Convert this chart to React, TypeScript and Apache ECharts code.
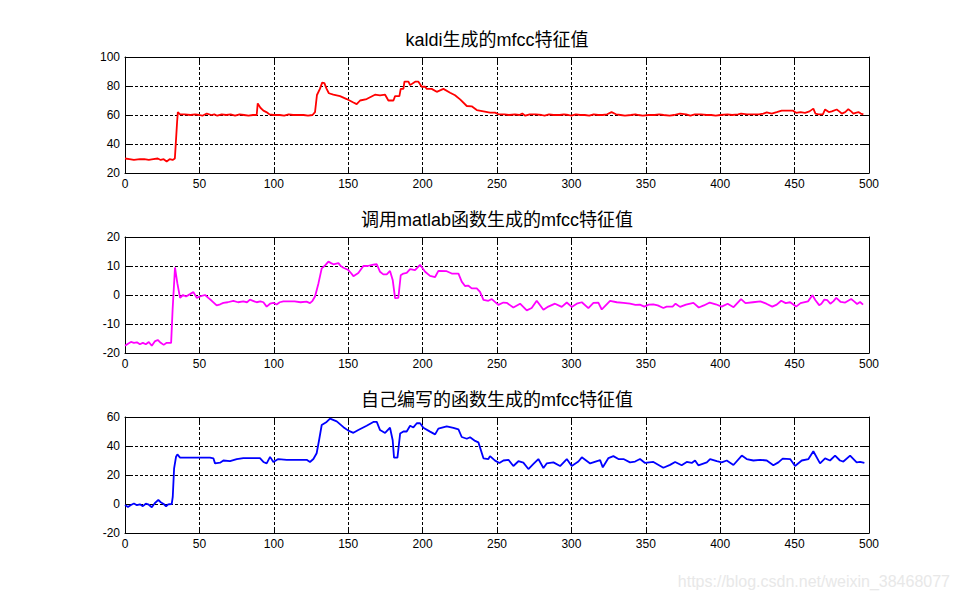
import React, { useEffect, useRef } from "react";
import * as echarts from "echarts";

// ---------- data ----------
const titles = [
  "kaldi生成的mfcc特征值",
  "调用matlab函数生成的mfcc特征值",
  "自己编写的函数生成的mfcc特征值",
];
const watermark = "https://blog.csdn.net/weixin_38468077";

const xTicks = { min: 0, max: 500, interval: 50 };
const yRanges = [
  { min: 20, max: 100, interval: 20 },
  { min: -20, max: 20, interval: 10 },
  { min: -20, max: 60, interval: 20 },
];
const colors = ["#ff0000", "#ff00ff", "#0000ff"];

const kaldiX = [0, 3, 6, 10, 13, 16, 19, 22, 24, 26, 28, 30, 32, 33.5, 34, 35, 35.5, 37, 40, 44, 47, 50, 52, 55, 58, 60, 62, 65, 68, 71, 74, 77, 80, 83, 86, 88.5, 89.2, 91, 93, 95, 97, 100, 104, 107, 110, 113, 117, 120, 123, 126, 127.7, 129, 131, 132.5, 134, 135.5, 137, 140, 144.5, 149, 153.5, 155.7, 158, 162.4, 168, 171.4, 174.8, 177, 180.4, 181.5, 184.4, 185.3, 187.1, 187.8, 190.5, 191.6, 195, 197.2, 199.4, 201.7, 202.8, 206.1, 209.5, 214, 218.5, 221.8, 225.2, 229.7, 233, 236.4, 240.9, 245.3, 248.7, 251, 255, 258, 262, 265, 267, 269, 272, 276, 280, 282, 285, 288, 292, 295, 298, 300, 303, 306, 309, 312, 315, 318, 321, 324, 327, 330, 333, 336, 340, 343, 345, 348, 352, 356, 359, 362, 366, 369, 373, 377, 380, 383, 387, 391, 394, 397, 400, 405, 408, 412, 414, 418, 422, 426, 429, 431.3, 434.6, 438, 441.3, 445, 449, 451, 454, 457, 460, 462.6, 464, 466, 469, 470.5, 473, 475, 478.3, 480, 481.7, 484, 486.1, 488, 489.5, 491, 492.9, 494.5, 496.2];
const kaldiY = [30, 29.5, 29, 29.5, 29.5, 29, 29.5, 30, 29, 29.5, 28, 29.5, 29, 30, 38, 55, 62, 60.5, 60.5, 60, 60.5, 60, 59.5, 61, 60, 60.5, 59.5, 60.5, 60, 60.5, 59.5, 60.5, 60, 59.5, 60, 60, 68, 65, 63, 62, 60.5, 60, 60, 59.5, 60.5, 60, 60, 60, 59.5, 60, 62, 73.8, 78, 82.3, 82, 78, 75, 74, 73, 71, 68.6, 67.5, 70, 71, 74, 73.6, 74, 70, 70, 73, 73, 78, 78, 83, 83, 80.6, 83, 83, 79.5, 79.5, 78, 78, 76, 78, 75.4, 73.6, 70.8, 66.2, 66, 63.4, 62.5, 61.6, 61.6, 60.5, 60.5, 60, 60.5, 60, 61, 59.5, 60.5, 60.5, 60, 59.5, 60.5, 60, 60, 60.5, 60, 59.5, 60.5, 60, 60, 59.5, 60.5, 60, 60, 60.5, 62, 60.5, 60, 59.5, 60, 60.5, 60, 59.5, 60, 60, 60.5, 60, 59.5, 60, 61, 60.5, 59.5, 60.5, 60.5, 60, 60, 59.5, 60, 60.5, 60, 60.5, 61, 60.5, 60.5, 60.5, 61, 61.8, 61, 62, 63, 63, 63, 61.5, 62, 61.5, 62.5, 64.4, 61, 60.5, 60.5, 63.8, 62, 62.5, 63.8, 62.5, 61, 62, 64, 62.5, 61, 61.5, 62, 61, 60.5];

const matlabX = [0, 2, 4, 6, 8, 10, 12, 14, 16, 18, 20, 22, 24, 26, 28, 31, 32, 33.6, 34.3, 35.2, 37, 39, 41, 43.7, 46, 48.2, 50.4, 53.8, 56, 58.3, 61.6, 64, 66.1, 69, 72.8, 76, 79.5, 82, 84, 86, 88.5, 91, 93, 95.2, 97.5, 99.7, 101.9, 104, 106.4, 110, 114, 118, 122, 124.3, 126, 127.7, 130, 132.2, 134.5, 136.7, 138.5, 140, 143.4, 145, 146.8, 150.1, 152, 153.5, 155, 156.8, 160.2, 163, 166.9, 169.2, 171.4, 173.6, 175.9, 178.1, 179.9, 181.5, 183.7, 185.3, 187.1, 189.3, 191.6, 194.9, 198.3, 201.7, 205, 208.4, 210.6, 216.2, 219.6, 224.1, 226.3, 228.5, 230.8, 233, 236.4, 238.6, 240.9, 244.2, 246.5, 250.9, 254.3, 256.5, 261, 265.5, 270, 273.3, 276.7, 281.2, 284.5, 289, 293.5, 296.9, 300.2, 303.6, 307, 311.4, 314.8, 318.1, 320.4, 323.7, 326, 330.5, 335, 339.4, 343, 346, 349, 352, 355, 358, 361.8, 364, 368, 370, 373, 377, 382, 385.6, 389, 393, 397, 401, 405, 409, 414, 417, 422, 427, 431, 435, 438, 441, 444, 447, 451, 454, 459, 462, 464, 466.5, 468, 470, 472, 474, 476, 478, 481, 484, 488, 490, 492, 494, 496];
const matlabY = [-17.5, -16.8, -16.2, -16.5, -16.3, -17, -16.5, -17, -16.2, -17.5, -16, -15.5, -16.5, -17.2, -16.5, -16.5, -5, 9.5, 7, 4, -1, 0, -0.5, 0.3, 1, -1, -0.5, 0, -1, -2, -3.6, -3.2, -2.7, -2.5, -2, -2.5, -2.2, -2.5, -1.6, -2, -2.5, -2.2, -2.5, -4, -3, -2.7, -3.3, -2.5, -2.2, -2.2, -2.2, -2.5, -2.3, -2.8, -2, -0.5, 4, 9.2, 10.2, 11.5, 11, 10.6, 11, 10, 9.4, 8.6, 7.5, 6.5, 7, 7.6, 10, 10, 10.5, 10.6, 8, 7.1, 7.1, 8.3, 5.2, -1.1, -1, 6.8, 7.4, 7.6, 8.9, 8.6, 10.4, 8, 6.6, 6.2, 8.3, 8.2, 7.4, 7.4, 4.6, 3.1, 3.2, 2.3, 2.3, 1.1, -1.7, -2, -1.4, -3.4, -2.6, -2.7, -4.3, -3, -5.3, -4.5, -2, -5.1, -4, -3, -4.1, -2.6, -4.1, -3, -2.5, -4.5, -2.7, -2.6, -5, -3.2, -2, -2.5, -2.7, -3, -3.4, -3.3, -4, -3.3, -3.2, -3.6, -4.5, -4, -4, -3, -4.1, -3.3, -2.7, -4.3, -3.6, -2.6, -3.2, -4, -3, -4.2, -1.4, -2.8, -2.5, -2.2, -3, -4, -3.3, -2, -2.8, -2.5, -4, -2.8, -2.2, -0.1, -1.8, -3.5, -3, -1.6, -1.8, -3, -2.2, -1, -2.4, -2.6, -1.4, -2.2, -3.1, -2.4, -3.3];

const ownX = [0, 2, 4, 6, 8, 10, 12, 14, 16, 18, 20, 22.4, 24, 26, 27.6, 29, 31.4, 32.1, 33, 34.3, 35.2, 37, 42, 47, 52, 57.1, 59.4, 60.5, 63.9, 66.1, 70.6, 75.1, 79.5, 85, 90.7, 93, 95.2, 97.5, 99.7, 103, 108.7, 115, 122.1, 124.3, 126.6, 128.8, 130.6, 132.2, 135.5, 137.8, 142.3, 146.8, 150.1, 153.5, 156.8, 162.4, 166.9, 169.2, 171.4, 174.8, 178.1, 179.9, 180.8, 183.1, 184.9, 187.1, 189.3, 191.6, 193.8, 196.1, 198.3, 200.5, 205, 208.4, 210.6, 216.2, 220.7, 224.1, 226.3, 229.7, 231.9, 235.3, 237.5, 240.9, 244.2, 245.3, 248.7, 251.6, 254.3, 257.7, 261, 264.4, 267.7, 271.1, 274.5, 277.8, 281.2, 283.4, 287.9, 292.4, 296.9, 300.2, 304.7, 307, 312.6, 319.3, 321.1, 324.9, 328.2, 331.6, 335, 339.4, 342.8, 346.1, 349.5, 355.1, 361.8, 366.3, 369.7, 374.1, 377.5, 380.9, 383.1, 385.3, 391, 393.2, 397.7, 401, 404.4, 408.9, 414.5, 417.8, 422.3, 426.8, 431.3, 435.7, 439.1, 442, 447, 450.3, 454.8, 459.3, 462.6, 467.1, 470.5, 473.8, 477.2, 480.5, 482.8, 487.3, 491.7, 494, 496.9];
const ownY = [-0.7, -2, -0.7, 0.4, -0.8, -0.2, -1.5, 0.2, -0.5, -2.2, 0.5, 2.8, 1.2, 0, -1.6, -0.2, 0, 5, 24.6, 32.6, 34.2, 32, 32, 32, 32, 32, 31.5, 28, 28.5, 30, 29.5, 31, 31.7, 31.7, 31.7, 29, 28, 32.5, 29, 31, 30.5, 30.5, 30.5, 29, 31, 35, 45, 54.5, 56.6, 58.9, 57, 53, 50.6, 49.1, 51, 54, 56.6, 56.6, 51, 49, 52.6, 44, 32, 32, 48.6, 50, 50, 54, 52.8, 55.7, 55.7, 52.6, 49.9, 48, 52, 53.5, 52.5, 51.5, 46.2, 45, 46, 43.5, 42.5, 31.5, 31, 33, 29.9, 28.3, 30, 30.5, 26.2, 29.5, 28.5, 24.1, 27.6, 31, 24.8, 28, 28.7, 26.2, 31, 26.2, 29.3, 32.2, 28, 30.3, 25.3, 31.7, 33, 31, 31, 28.7, 29.3, 31, 28.3, 29, 25, 27, 29, 26.7, 29, 28.3, 30, 26.7, 28.7, 31, 29.5, 28.7, 30, 26.9, 33.4, 31, 30, 30.5, 30, 26.7, 28.7, 31.3, 31, 26.2, 30, 31, 36.4, 28, 31.5, 30, 33.4, 30, 29.3, 33.4, 28.7, 29, 28.3];

const seriesX = [kaldiX, matlabX, ownX];
const seriesY = [kaldiY, matlabY, ownY];

// ---------- layout ----------
const gridTops = [57, 237, 417];
const gridH = 116;
const gridLeft = 125;
const gridRight = 91;
const titleCenters = [40, 220, 400];
const FONT = "'Liberation Sans', Arial, 'Noto Sans CJK SC', sans-serif";

function buildOption() {
  const grid = gridTops.map((t) => ({
    left: gridLeft,
    right: gridRight,
    top: t,
    height: gridH,
    show: false,
  }));
  const xAxis: any[] = [];
  const yAxis: any[] = [];
  const series: any[] = [];
  const dash = { color: "#000", width: 1, type: [3, 2] };
  gridTops.forEach((_, i) => {
    xAxis.push({
      type: "value",
      gridIndex: i,
      position: "bottom",
      min: xTicks.min,
      max: xTicks.max,
      interval: xTicks.interval,
      axisLine: { show: true, onZero: false, lineStyle: { color: "#000", width: 1 } },
      axisTick: { show: true, inside: true, length: 6, lineStyle: { color: "#000" } },
      axisLabel: { show: true, color: "#000", fontSize: 12, fontFamily: FONT, margin: 5 },
      splitLine: { show: true, lineStyle: dash },
    });
    xAxis.push({
      type: "value",
      gridIndex: i,
      position: "top",
      min: xTicks.min,
      max: xTicks.max,
      interval: xTicks.interval,
      axisLine: { show: true, onZero: false, lineStyle: { color: "#000", width: 1 } },
      axisTick: { show: true, inside: true, length: 6, lineStyle: { color: "#000" } },
      axisLabel: { show: false },
      splitLine: { show: false },
    });
    const yr = yRanges[i];
    yAxis.push({
      type: "value",
      gridIndex: i,
      position: "left",
      min: yr.min,
      max: yr.max,
      interval: yr.interval,
      axisLine: { show: true, onZero: false, lineStyle: { color: "#000", width: 1 } },
      axisTick: { show: true, inside: true, length: 6, lineStyle: { color: "#000" } },
      axisLabel: { show: true, color: "#000", fontSize: 12, fontFamily: FONT, margin: 5 },
      splitLine: { show: true, lineStyle: dash },
    });
    yAxis.push({
      type: "value",
      gridIndex: i,
      position: "right",
      min: yr.min,
      max: yr.max,
      interval: yr.interval,
      axisLine: { show: true, onZero: false, lineStyle: { color: "#000", width: 1 } },
      axisTick: { show: true, inside: true, length: 6, lineStyle: { color: "#000" } },
      axisLabel: { show: false },
      splitLine: { show: false },
    });
    const xs = seriesX[i];
    const ys = seriesY[i];
    series.push({
      type: "line",
      name: titles[i],
      xAxisIndex: i * 2,
      yAxisIndex: i * 2,
      data: xs.map((x, k) => [x, ys[k]]),
      showSymbol: false,
      symbol: "none",
      lineStyle: { color: colors[i], width: 1.8 },
      itemStyle: { color: colors[i] },
      z: 5,
    });
  });

  const graphic: any[] = titles.map((t, i) => ({
    type: "text",
    x: gridLeft + (960 - gridLeft - gridRight) / 2,
    y: titleCenters[i],
    style: {
      text: t,
      fill: "#000",
      fontSize: 18,
      fontFamily: FONT,
      align: "center",
      verticalAlign: "middle",
    },
  }));
  graphic.push({
    type: "text",
    x: 950,
    y: 581,
    style: {
      text: watermark,
      fill: "#e8e8e8",
      fontSize: 16,
      fontFamily: FONT,
      align: "right",
      verticalAlign: "middle",
    },
  });

  return {
    animation: false,
    backgroundColor: "#ffffff",
    grid,
    xAxis,
    yAxis,
    series,
    graphic,
  };
}

export default function App() {
  const ref = useRef<HTMLDivElement>(null);
  useEffect(() => {
    if (!ref.current) return;
    const chart = echarts.init(ref.current, undefined, { renderer: "svg" });
    chart.setOption(buildOption() as any);
    return () => chart.dispose();
  }, []);
  return (
    <div
      ref={ref}
      style={{ position: "absolute", left: 0, top: 0, width: 960, height: 600 }}
    />
  );
}
